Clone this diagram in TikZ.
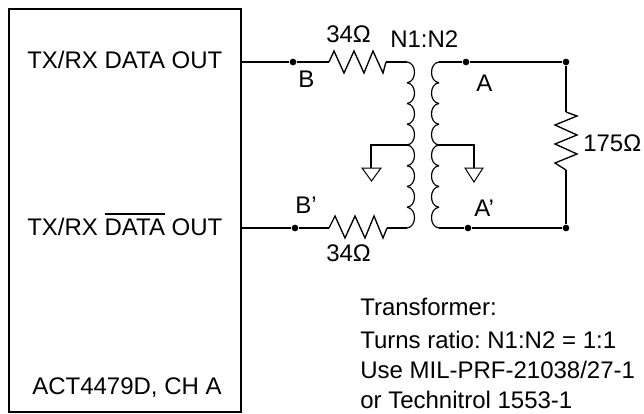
\documentclass[tikz,border=0pt]{standalone}
\usepackage{fontspec}
\setmainfont{Liberation Sans}
\frenchspacing
\newcommand\ovlbar[1]{\leavevmode\setbox0=\hbox{#1}\rlap{\raisebox{15.3pt}{\rule{\wd0}{1.1pt}}}#1}
\tikzset{
  wire/.style={line width=1.4pt,line join=miter},
  zigzagline/.style={line width=1pt,line join=miter},
  coilline/.style={line width=0.9pt},
  gndtri/.style={line width=0.75pt,line join=miter},
  junction/.style={circle,fill=black,inner sep=0pt,minimum size=5pt},
  lbl/.style={inner sep=0pt,anchor=base west,font=\fontsize{18}{21}\selectfont},
}
\begin{document}
\begin{tikzpicture}[x=0.75pt,y=-0.75pt]
\useasboundingbox (0,0) rectangle (644,414);
% module box
\draw[wire] (9,9) rectangle (241,412);
\coordinate (boxB) at (241,62);
\coordinate (boxBp) at (241,228);
% junctions
\node[junction] (jB) at (293,62) {};
\node[junction] (jBp) at (295,228) {};
\node[junction] (jA) at (466,62) {};
\node[junction] (jAp) at (468,228) {};
\node[junction] (jR) at (566,62) {};
\node[junction] (jRb) at (566,228) {};
% coil terminals
\coordinate (Lt) at (407,62);
\coordinate (Lb) at (407,228);
\coordinate (Lc) at (408,145);
\coordinate (Rt) at (439,62);
\coordinate (Rb) at (439,228);
\coordinate (Rc) at (439,145);
% resistor ends
\coordinate (r1a) at (329,62);
\coordinate (r1b) at (386,62);
\coordinate (r2a) at (329,228);
\coordinate (r2b) at (387,228);
\coordinate (r3a) at (566,112);
\coordinate (r3b) at (566,170);
% wires
\draw[wire] (boxB) -- (jB) -- (r1a);
\draw[wire] (r1b) -- (Lt);
\draw[wire] (boxBp) -- (jBp) -- (r2a);
\draw[wire] (r2b) -- (Lb);
\draw[wire] (Rt) -- (jA) -- (jR) -- (r3a);
\draw[wire] (r3b) -- (jRb) -- (jAp) -- (Rb);
% resistors
\draw[zigzagline] (r1a) -- (334,51) -- (344,73) -- (354,51) -- (364,73) -- (373,51) -- (383,73) -- (r1b);
\draw[zigzagline] (r2a) -- (335,216) -- (345,238) -- (355,216) -- (365,238) -- (374,216) -- (383,238) -- (r2b);
\draw[zigzagline] (r3a) -- (577,116) -- (555,125) -- (577,135) -- (555,144) -- (577,154) -- (555,163) -- (r3b);
% coils
\foreach \i in {0,...,7}{
  \pgfmathsetmacro{\ya}{62+20.75*\i}
  \pgfmathsetmacro{\yb}{62+20.75*(\i+1)}
  \draw[coilline] (407,\ya) .. controls (417,\ya+1) and (417,\yb-1) .. (407,\yb);
  \draw[coilline] (439,\ya) .. controls (429,\ya+1) and (429,\yb-1) .. (439,\yb);
}
% centre taps and grounds
\draw[wire] (Lc) -- (371,145) -- (371,168) coordinate (gl);
\draw[wire] (Rc) -- (474,145) -- (474,168) coordinate (gr);
\draw[gndtri] (362,168) -- (381,168) -- (371.5,181) -- cycle;
\draw[gndtri] (465,168) -- (483,168) -- (474,182) -- cycle;
% labels
\node[lbl] (t1) at (27,68) {TX/RX DATA OUT};
\node[lbl] (t2) at (27,235) {TX/RX \ovlbar{DATA} OUT};
\node[lbl] (t3) at (32,394) {ACT4479D, CH A};
\node[lbl] (r1) at (326,42) {34Ω};
\node[lbl] (r2) at (326,261) {34Ω};
\node[lbl] (n) at (390,47) {N1:N2};
\node[lbl] (b) at (298,88) {B};
\node[lbl] (bp) at (295,213) {B'};
\node[lbl] (a) at (476,91) {A};
\node[lbl] (ap) at (474,216) {A'};
\node[lbl] (r3) at (583,151) {175Ω};
\node[lbl] (c1) at (360,315) {Transformer:};
\node[lbl] (c2) at (360,348) {Turns ratio: N1:N2 = 1:1};
\node[lbl] (c3) at (360,378) {Use MIL-PRF-21038/27-1};
\node[lbl] (c4) at (360,408) {or Technitrol 1553-1};
\end{tikzpicture}
\end{document}
